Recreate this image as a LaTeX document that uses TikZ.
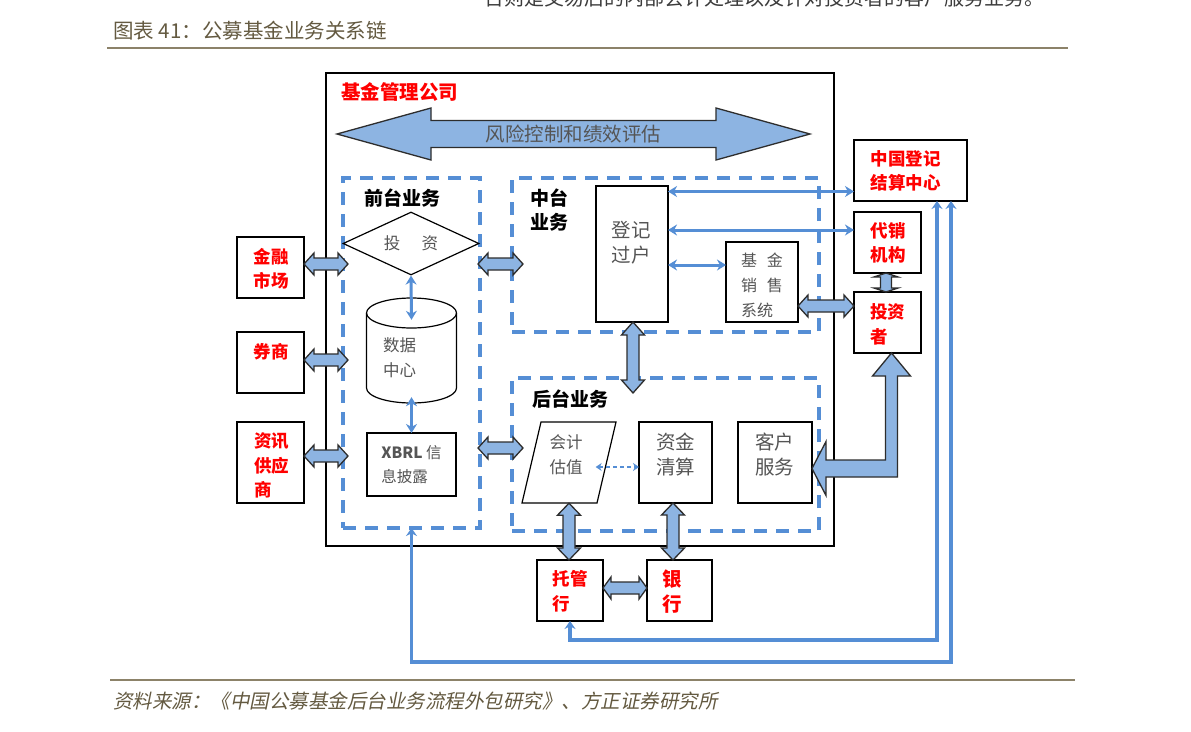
\documentclass[tikz,border=0pt]{standalone}
\usepackage{fontspec}
\setmainfont{Noto Sans CJK SC}
\newfontfamily\slantfont[FakeSlant=0.2]{Noto Sans CJK SC}
\usetikzlibrary{arrows.meta,calc,shapes.geometric}
\definecolor{dblue}{RGB}{85,142,213}
\definecolor{fatfill}{RGB}{141,180,226}
\definecolor{fatline}{RGB}{45,45,45}
\definecolor{txtgray}{RGB}{85,85,85}
\definecolor{capbrown}{RGB}{100,90,65}
\definecolor{rulebrown}{RGB}{140,130,105}
\tikzset{
 box/.style={draw=black, line width=1.2pt, inner sep=0pt, outer sep=0pt},
 dbox/.style={draw=dblue, line width=3.2pt, dash pattern=on 13pt off 9pt, inner sep=0pt, outer sep=0pt},
 redtxt/.style={text=red, font=\fontsize{17.5}{24.5}\selectfont\bfseries, align=center, inner sep=0pt},
 graytxt/.style={text=txtgray, font=\fontsize{19.5}{25}\selectfont, align=center, inner sep=0pt},
 smalltxt/.style={text=txtgray, font=\fontsize{16.5}{25}\selectfont, align=center, inner sep=0pt},
 headtxt/.style={text=black, font=\fontsize{19}{24}\selectfont\bfseries, align=left, inner sep=0pt},
 fat/.style={draw=fatline, fill=fatfill, line width=1.3pt, line join=miter},
 tarrow/.style={draw=dblue, line width=3pt, {Stealth[length=9pt,width=11pt]}-{Stealth[length=9pt,width=11pt]}},
 route/.style={draw=dblue, line width=3.5pt, {Stealth[length=8pt,width=11pt]}-{Stealth[length=8pt,width=11pt]}},
}
\newcommand\hfat[5]{\draw[fat] (#1) -- ($(#1)+(#5,#4)$) -- ($(#1)+(#5,#3)$) -- ($(#2)+(-#5,#3)$) -- ($(#2)+(-#5,#4)$) -- (#2) -- ($(#2)+(-#5,-#4)$) -- ($(#2)+(-#5,-#3)$) -- ($(#1)+(#5,-#3)$) -- ($(#1)+(#5,-#4)$) -- cycle;}
\newcommand\vfat[5]{\draw[fat] (#1) -- ($(#1)+(#4,-#5)$) -- ($(#1)+(#3,-#5)$) -- ($(#2)+(#3,#5)$) -- ($(#2)+(#4,#5)$) -- (#2) -- ($(#2)+(-#4,#5)$) -- ($(#2)+(-#3,#5)$) -- ($(#1)+(-#3,-#5)$) -- ($(#1)+(-#4,-#5)$) -- cycle;}
\begin{document}
\begin{tikzpicture}[x=1pt,y=1pt]
\useasboundingbox (0,0) rectangle (1191,-731);
\fill[white] (0,0) rectangle (1191,-731);

% header / footer
\node[anchor=base west, inner sep=0pt, text={rgb,255:red,60;green,60;blue,60}, font=\fontsize{20}{24}\selectfont] (cut) at (484,-5.6) {台则是交易后的内部会计处理以及针对投资者的客户服务业务。};
\node[anchor=west, inner sep=0pt, text=capbrown, font=\fontsize{20.5}{24}\selectfont] (title) at (113,-31) {图表 41：公募基金业务关系链};
\draw[rulebrown, line width=1.8pt] (107,-48) -- (1068,-48);
\draw[rulebrown, line width=1.8pt] (110,-680) -- (1075,-680);
\node[anchor=west, inner sep=0pt, text=capbrown, font=\fontsize{19.5}{24}\selectfont\slantfont] (src) at (113,-701) {资料来源：《中国公募基金后台业务流程外包研究》、方正证券研究所};

% containers
\node[box, minimum width=508pt, minimum height=473pt] (company) at (580,-309.5) {};
\node[anchor=west, inner sep=0pt, text=red, font=\fontsize{19.5}{24}\selectfont\bfseries] (lbl) at (341,-92) {基金管理公司};
\node[dbox, minimum width=137pt, minimum height=350pt] (front) at (411.5,-353) {};
\node[dbox, minimum width=307pt, minimum height=154pt] (middle) at (665.5,-255) {};
\node[dbox, minimum width=307pt, minimum height=153pt] (back) at (665.5,-454.5) {};
\node[headtxt] (lfront) at (402.5,-198) {前台业务};
\node[headtxt] (lmid) at (549,-210) {中台\\业务};
\node[headtxt] (lback) at (570,-399) {后台业务};

% risk arrow
\coordinate (r1) at ($(company.north west)+(11,-61)$);
\coordinate (r2) at ($(company.north east)+(-24,-61)$);
\hfat{r1}{r2}{13.5}{26}{94}
\node[graytxt] (risk) at ($(r1)!0.5!(r2)$) {风险控制和绩效评估};

% front office
\node[draw, diamond, line width=1.2pt, inner sep=0pt, minimum width=136pt, minimum height=63pt, aspect=2.16] (tz) at (411,-243.5) {};
\node[smalltxt] (tzt) at (tz) {投\hspace{1.3em}资};
\node[inner sep=0pt, minimum width=90pt, minimum height=105pt] (db) at (411.5,-350.5) {};
\draw[line width=1.2pt] (366.5,-313) -- (366.5,-388) arc[start angle=180, end angle=360, x radius=45, y radius=15] -- (456.5,-313);
\draw[line width=1.2pt] (411.5,-313) ellipse[x radius=45, y radius=15];
\node[smalltxt, align=left, anchor=west] (dbt) at (383,-358) {数据\\中心};
\node[box, minimum width=89pt, minimum height=63pt] (xbrl) at (411.5,-464.5) {};
\node[text=txtgray, align=left, inner sep=0pt, font=\fontsize{15.5}{24}\selectfont] (xbrlt) at (xbrl) {\textbf{XBRL} 信\\息披露};
\draw[tarrow] (tz.south) -- ($(db.north)+(0,-22)$);
\draw[tarrow] ($(db.south)+(0,6)$) -- (xbrl.north);

% middle office
\node[box, minimum width=72pt, minimum height=136pt] (dj) at (632,-254) {};
\node[graytxt] (djt) at (631,-242.5) {登记\\过户};
\node[box, minimum width=72pt, minimum height=80pt] (fs) at (762,-282) {};
\node[smalltxt, align=left, font=\fontsize{16}{25}\selectfont] (fst) at (762,-285) {基\hspace{0.6em}金\\销\hspace{0.6em}售\\系统};

% back office
\draw[line width=1.2pt] (522,-503) -- (541,-422) -- (616,-422) -- (597,-503) -- cycle;
\node[inner sep=0pt, minimum width=75pt, minimum height=81pt] (kj) at (569,-462.5) {};
\node[smalltxt] (kjt) at (566,-454.5) {会计\\估值};
\node[box, minimum width=73pt, minimum height=81pt] (zj) at (675.5,-462.5) {};
\node[graytxt] (zjt) at (675.5,-454.5) {资金\\清算};
\node[box, minimum width=74pt, minimum height=81pt] (kf) at (775,-462.5) {};
\node[graytxt] (kft) at (774.5,-454.5) {客户\\服务};
\coordinate (k1) at ($(kj.east)+(-11,-4.5)$);
\draw[dblue, line width=2.2pt, dash pattern=on 4pt off 3pt, {Stealth[length=6pt,width=8pt]}-{Stealth[length=6pt,width=8pt]}] (k1) -- (zj.west |- k1);

% outside boxes
\node[box, minimum width=67pt, minimum height=61pt] (jr) at (270.5,-267.5) {};
\node[redtxt] (jrt) at (271,-268.5) {金融\\市场};
\node[box, minimum width=67pt, minimum height=61pt] (qs) at (270.5,-362.5) {};
\node[redtxt] (qst) at (271,-352) {券商};
\node[box, minimum width=67pt, minimum height=81pt] (zx) at (270.5,-462.5) {};
\node[redtxt, align=left] (zxt) at (271.5,-465.5) {资讯\\供应\\商};
\node[box, minimum width=113pt, minimum height=61pt] (zgdj) at (910.5,-170.5) {};
\node[redtxt] (zgdjt) at (905.5,-171) {中国登记\\结算中心};
\node[box, minimum width=67pt, minimum height=61pt] (dx) at (887.5,-242.5) {};
\node[redtxt] (dxt) at (888,-243) {代销\\机构};
\node[box, minimum width=67pt, minimum height=61pt] (inv) at (887.5,-322.5) {};
\node[redtxt, align=left] (invt) at (887.5,-324.5) {投资\\者};
\node[box, minimum width=66pt, minimum height=61pt] (tg) at (570,-590.5) {};
\node[redtxt, align=left] (tgt) at (570,-591.5) {托管\\行};
\node[box, minimum width=65pt, minimum height=61pt] (yh) at (679.5,-590.5) {};
\node[redtxt, font=\fontsize{19.5}{24.5}\selectfont\bfseries] (yht) at (672,-591.5) {银\\行};

% thin connectors
\coordinate (t1) at ($(zgdj.west)+(0,-21)$);
\draw[tarrow] (dj.east |- t1) -- (t1);
\coordinate (t2) at ($(dx.west)+(0,12.5)$);
\draw[tarrow] (dj.east |- t2) -- (t2);
\coordinate (t3) at ($(fs.west)+(0,17)$);
\draw[tarrow] (dj.east |- t3) -- (t3);
\coordinate (b1) at ($(zgdj.south)+(26.5,0)$);
\coordinate (b2) at ($(zgdj.south)+(40.5,0)$);
\draw[route] (tg.south) -- ++(0,-19) -| (b1);
\draw[route] (front.south) -- ++(0,-134) -| (b2);

% fat connectors
\coordinate (f1a) at ($(jr.east)+(0,3.5)$);
\coordinate (f1b) at ($(front.west |- f1a)+(5,0)$);
\hfat{f1a}{f1b}{6}{11}{10}
\coordinate (f2a) at ($(qs.east)+(0,2.5)$);
\coordinate (f2b) at ($(front.west |- f2a)+(5,0)$);
\hfat{f2a}{f2b}{6}{11}{10}
\coordinate (f3a) at ($(zx.east)+(0,6.5)$);
\coordinate (f3b) at ($(front.west |- f3a)+(5,0)$);
\hfat{f3a}{f3b}{6}{11}{10}
\coordinate (f4a) at ($(front.east |- f1a)+(-2,0)$);
\coordinate (f4b) at ($(middle.west |- f1a)+(11,0)$);
\hfat{f4a}{f4b}{6}{11}{10}
\coordinate (f5a) at ($(front.east |- xbrl.center)+(-2,16.5)$);
\coordinate (f5b) at ($(back.west |- f5a)+(11,0)$);
\hfat{f5a}{f5b}{6}{11}{10}
\coordinate (f6a) at ($(dj.south)+(1,0)$);
\coordinate (f6b) at ($(back.north -| f6a)+(0,-15)$);
\vfat{f6a}{f6b}{6}{11.5}{13}
\coordinate (f7a) at (kj.south);
\coordinate (f7b) at (tg.north -| f7a);
\vfat{f7a}{f7b}{6}{11.5}{12}
\coordinate (f8a) at ($(zj.south)+(-2.5,0)$);
\coordinate (f8b) at (yh.north -| f8a);
\vfat{f8a}{f8b}{6}{11.5}{12}
\coordinate (f9a) at ($(tg.east)+(0,2.5)$);
\coordinate (f9b) at (yh.west |- f9a);
\hfat{f9a}{f9b}{6}{11}{8}
\coordinate (f10a) at ($(dx.south)+(-1.5,0)$);
\coordinate (f10b) at (inv.north -| f10a);
\vfat{f10a}{f10b}{5.5}{12}{4}
\coordinate (f11a) at ($(fs.east)+(0,-24)$);
\coordinate (f11b) at (inv.west |- f11a);
\hfat{f11a}{f11b}{6}{11}{10}
\coordinate (e1) at ($(inv.south)+(4,0)$);
\coordinate (e2) at ($(kf.east)+(0,-6)$);
\coordinate (e3) at (e1 |- e2);
\draw[fat] (e1) -- ++(19,-23) -- ++(-13,0) -- ($(e3)+(6,-8.5)$) -- ($(e2)+(14,-8.5)$) -- ++(0,-18.5) -- (e2) -- ($(e2)+(14,27)$) -- ++(0,-18.5) -- ($(e3)+(-6,8.5)$) -- ($(e1)+(-6,-23)$) -- ++(-13,0) -- cycle;
\end{tikzpicture}
\end{document}
